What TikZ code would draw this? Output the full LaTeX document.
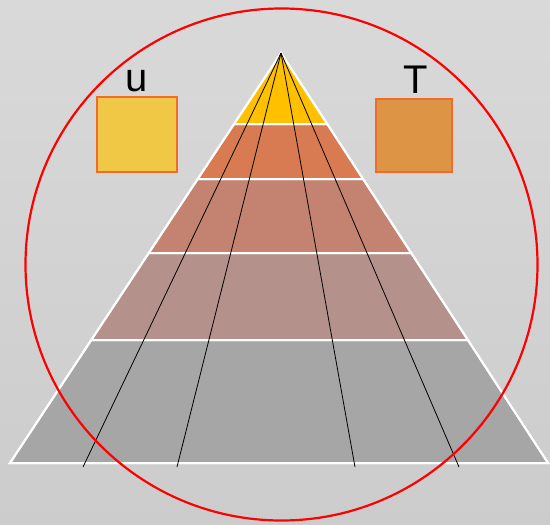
\documentclass[tikz,border=0pt]{standalone}
\usepackage{fontspec}
\setmainfont{Liberation Sans}
\definecolor{bgtop}{HTML}{D9D9D9}
\definecolor{bgbot}{HTML}{CCCCCC}
\definecolor{layA}{HTML}{FFC000}
\definecolor{layB}{HTML}{D97B52}
\definecolor{layC}{HTML}{C48270}
\definecolor{layD}{HTML}{B4918A}
\definecolor{layE}{HTML}{A6A6A6}
\definecolor{boxU}{HTML}{F0C846}
\definecolor{boxT}{HTML}{DE9445}
\definecolor{boxline}{HTML}{F26B2A}
\tikzset{
  layer/.style={draw=white, line width=2pt, line join=miter},
  ray/.style={draw=black, line width=0.8pt},
  sqbox/.style={draw=boxline, line width=2pt, inner sep=0pt, anchor=north west},
  lbl/.style={font=\fontsize{40}{42}\selectfont, inner sep=0pt, text=black}
}
\begin{document}
\begin{tikzpicture}[x=1pt,y=-1pt]
\useasboundingbox (0,0) rectangle (550,525);
\shade[top color=bgtop, bottom color=bgbot] (0,0) rectangle (550,525);
% layers
\fill[layE, layer] (91.3,340) -- (467.9,340) -- (548,463) -- (10,463) -- cycle;
\fill[layD, layer] (148.8,253) -- (411.2,253) -- (467.9,340) -- (91.3,340) -- cycle;
\fill[layC, layer] (197.7,179) -- (363.1,179) -- (411.2,253) -- (148.8,253) -- cycle;
\fill[layB, layer] (234.1,124) -- (327.2,124) -- (363.1,179) -- (197.7,179) -- cycle;
\fill[layA, layer] (281,53) -- (327.2,124) -- (234.1,124) -- cycle;
\draw[layer] (281,53) -- (548,463) -- (10,463) -- cycle;
\draw[layer] (234.1,124) -- (327.2,124);
\draw[layer] (197.7,179) -- (363.1,179);
\draw[layer] (148.8,253) -- (411.2,253);
\draw[layer] (91.3,340) -- (467.9,340);
% rays
\coordinate (apex) at (281,53);
\coordinate (r1) at (83,467);
\coordinate (r2) at (177,467);
\coordinate (r3) at (355,467);
\coordinate (r4) at (459,467);
\draw[ray] (apex) -- (r1);
\draw[ray] (apex) -- (r2);
\draw[ray] (apex) -- (r3);
\draw[ray] (apex) -- (r4);
% boxes
\node[sqbox, fill=boxU, minimum width=80pt, minimum height=75pt] (ubox) at (96,96) {};
\node[sqbox, fill=boxT, minimum width=76pt, minimum height=73pt] (tbox) at (375,98) {};
\node[lbl, anchor=base] (ulbl) at (137,91) {u};
\node[lbl, anchor=base] (tlbl) at (416,93) {T};
% circle
\node[draw=red, line width=2.2pt, circle, minimum size=512pt, inner sep=0pt] (ring) at (281.5,264.5) {};
\end{tikzpicture}
\end{document}
